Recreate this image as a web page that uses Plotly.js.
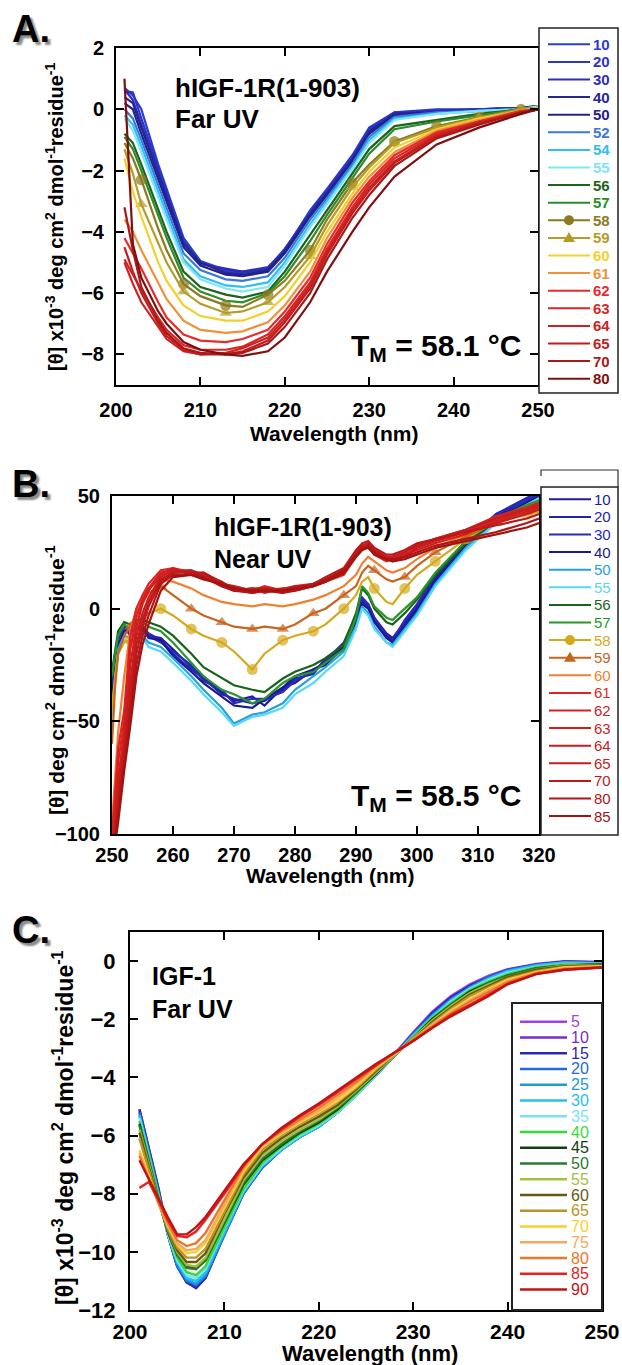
<!DOCTYPE html>
<html><head><meta charset="utf-8">
<script src="https://cdn.plot.ly/plotly-3.0.1.min.js"></script>
<style>html,body{margin:0;padding:0;background:#fff;} #chart{width:622px;height:1365px;}</style>
</head><body><div id="chart"></div>
<script>
// ---------------- Panel A: hIGF-1R(1-903) Far UV ----------------
const aWavelength = [201, 202, 203, 205, 206, 208, 210, 213, 215, 218, 220, 223, 225, 228, 230, 233, 238, 243, 248, 250];
const aTemps = ['10','20','30','40','50','52','54','55','56','57','58','59','60','61','62','63','64','65','70','80'];
const aT10 = [0.7, 0.45, 0.0, -1.8, -2.6, -4.2, -4.95, -5.25, -5.3, -5.15, -4.6, -3.3, -2.6, -1.5, -0.6, -0.1, -0.05, 0.0, 0.05, 0.1];
const aT20 = [0.6, 0.55, -0.3, -1.9, -2.7, -4.3, -5.0, -5.3, -5.35, -5.2, -4.6, -3.35, -2.65, -1.55, -0.65, -0.1, 0.0, 0.0, 0.05, 0.1];
const aT30 = [0.65, 0.3, -0.5, -2.0, -2.8, -4.35, -5.05, -5.2, -5.3, -5.2, -4.55, -3.4, -2.7, -1.6, -0.7, -0.15, -0.05, 0.0, 0.05, 0.1];
const aT40 = [0.4, 0.2, -0.6, -2.1, -2.9, -4.4, -5.0, -5.35, -5.4, -5.25, -4.65, -3.45, -2.75, -1.65, -0.75, -0.15, -0.1, -0.05, 0.0, 0.1];
const aT50 = [0.2, 0.0, -0.8, -2.3, -3.0, -4.5, -5.1, -5.4, -5.45, -5.3, -4.7, -3.5, -2.8, -1.7, -0.8, -0.2, -0.1, -0.05, 0.0, 0.1];
const aT52 = [0.0, -0.3, -1.0, -2.5, -3.2, -4.7, -5.25, -5.55, -5.6, -5.45, -4.85, -3.6, -2.9, -1.8, -0.9, -0.25, -0.1, -0.05, 0.0, 0.1];
const aT54 = [-0.2, -0.5, -1.2, -2.7, -3.4, -4.9, -5.45, -5.75, -5.8, -5.65, -5.0, -3.75, -3.0, -1.9, -1.0, -0.3, -0.15, -0.05, 0.0, 0.1];
const aT55 = [-0.3, -0.7, -1.4, -2.9, -3.6, -5.0, -5.55, -5.85, -5.95, -5.8, -5.1, -3.85, -3.1, -1.95, -1.1, -0.35, -0.15, -0.05, 0.0, 0.1];
const aT56 = [-0.8, -1.1, -1.8, -3.3, -4.0, -5.3, -5.8, -6.05, -6.15, -5.95, -5.3, -4.1, -3.3, -2.1, -1.3, -0.55, -0.35, -0.15, 0.0, 0.05];
const aT57 = [-0.9, -1.3, -2.0, -3.5, -4.2, -5.5, -5.95, -6.25, -6.3, -6.0, -5.45, -4.3, -3.45, -2.25, -1.45, -0.65, -0.4, -0.2, 0.0, 0.05];
const aT58 = [-1.1, -1.6, -2.3, -3.9, -4.6, -5.7, -6.1, -6.4, -6.45, -6.05, -5.6, -4.6, -3.6, -2.4, -1.8, -1.05, -0.55, -0.26, 0.0, 0.05];
const aT59 = [-1.3, -2.1, -3.1, -4.4, -5.0, -5.95, -6.35, -6.65, -6.6, -6.3, -5.8, -4.8, -3.8, -2.55, -1.9, -1.1, -0.6, -0.28, 0.0, 0.05];
const aT60 = [-1.6, -2.7, -3.5, -5.0, -5.6, -6.4, -6.75, -6.9, -6.9, -6.6, -6.1, -5.0, -4.0, -2.75, -2.05, -1.25, -0.65, -0.3, -0.05, 0.05];
const aT61 = [-3.6, -4.0, -4.6, -5.7, -6.2, -6.9, -7.2, -7.3, -7.25, -6.95, -6.4, -5.3, -4.2, -2.9, -2.2, -1.4, -0.7, -0.35, -0.05, 0.0];
const aT62 = [-4.2, -4.7, -5.2, -6.3, -6.8, -7.35, -7.55, -7.6, -7.5, -7.2, -6.6, -5.5, -4.4, -3.05, -2.35, -1.5, -0.75, -0.4, -0.05, 0.0];
const aT63 = [-4.9, -5.4, -5.9, -6.8, -7.2, -7.7, -7.85, -7.85, -7.75, -7.35, -6.75, -5.65, -4.55, -3.2, -2.45, -1.6, -0.8, -0.4, -0.1, 0.0];
const aT64 = [-5.0, -5.7, -6.3, -7.1, -7.5, -7.9, -8.0, -7.95, -7.8, -7.45, -6.85, -5.75, -4.65, -3.3, -2.55, -1.7, -0.85, -0.45, -0.1, 0.0];
const aT65 = [-4.5, -5.3, -6.0, -7.0, -7.4, -7.85, -8.0, -8.0, -7.9, -7.55, -6.95, -5.85, -4.75, -3.4, -2.65, -1.75, -0.9, -0.45, -0.1, 0.0];
const aT70 = [-3.2, -4.6, -5.8, -6.9, -7.3, -7.8, -7.95, -8.0, -7.95, -7.65, -7.1, -6.0, -4.9, -3.55, -2.8, -1.85, -0.95, -0.5, -0.1, 0.0];
const aT80 = [1.0, -4.4, -5.5, -6.6, -7.0, -7.6, -7.85, -8.0, -8.05, -7.9, -7.45, -6.3, -5.3, -4.0, -3.2, -2.2, -1.15, -0.6, -0.15, 0.0];
const aMarkerWavelengths = [203, 208, 213, 218, 223, 228, 233, 238, 243, 248];

// ---------------- Panel B: hIGF-1R(1-903) Near UV ----------------
const bWavelength = [250, 250.5, 251, 252, 253, 254, 255, 256, 258, 260, 263, 265, 268, 270, 273, 275, 278, 280, 283, 285, 288, 290, 291, 292, 293, 295, 296, 298, 300, 303, 308, 313, 318, 320];
const bTemps = ['10','20','30','40','50','55','56','57','58','59','60','61','62','63','64','65','70','80','85'];
const bT10 = [-38, -25, -14, -7, -10, -6, -9, -12, -13, -18, -26, -30, -37, -41, -39, -43, -35, -33, -27, -24, -16, -5, 3, 1, -5, -12, -14, -7, 0, 13, 29, 41, 48, 51];
const bT20 = [-35, -22, -12, -8, -12, -8, -8, -11, -14, -20, -27, -31, -38, -40, -42, -41, -36, -31, -29, -22, -17, -4, 4, 2, -4, -11, -13, -6, 1, 14, 30, 42, 49, 52];
const bT30 = [-30, -20, -13, -9, -11, -7, -10, -12, -15, -19, -25, -32, -36, -42, -40, -40, -37, -32, -28, -23, -15, -3, 5, 2, -4, -13, -14, -5, 2, 15, 30, 42, 48, 51];
const bT40 = [-40, -27, -16, -10, -9, -8, -9, -13, -14, -21, -28, -33, -39, -43, -44, -40, -35, -30, -27, -25, -17, -6, 2, 0, -6, -13, -15, -8, -1, 12, 28, 40, 47, 50];
const bT50 = [-45, -30, -18, -12, -13, -11, -12, -15, -17, -22, -30, -36, -44, -51, -47, -46, -42, -36, -30, -26, -19, -8, 1, -2, -8, -15, -16, -9, -2, 11, 27, 39, 46, 49];
const bT55 = [-48, -32, -20, -14, -15, -13, -13, -17, -19, -24, -32, -38, -46, -52, -48, -47, -44, -38, -33, -28, -21, -9, 0, -3, -9, -15, -17, -10, -3, 10, 26, 38, 46, 49];
const bT56 = [-28, -18, -10, -6, -7, -5, -5, -6, -8, -12, -20, -26, -31, -34, -36, -37, -31, -28, -25, -22, -16, -2, 9, 6, 0, -6, -7, -2, 4, 15, 29, 39, 45, 47];
const bT57 = [-30, -20, -12, -7, -9, -6, -6, -8, -10, -15, -24, -30, -36, -38, -42, -40, -33, -30, -28, -24, -18, -4, 10, 7, 1, -4, -5, 0, 5, 16, 30, 40, 46, 48];
const bT58 = [-45, -30, -20, -15, -14, -8, -4, -2, 0, -3, -9, -12, -15, -19, -27, -20, -14, -12, -10, -7, 0, 6, 12, 14, 9, 3, 2, 9, 15, 21, 31, 39, 42, 43];
const bT59 = [-60, -35, -20, -12, -8, -2, 3, 7, 10, 6, 0, -3, -6, -8, -9, -8, -9, -7, -2, 0, 6, 10, 16, 19, 17, 13, 12, 14, 19, 25, 32, 38, 43, 44];
const bT60 = [-95, -75, -55, -30, -10, 0, 5, 9, 13, 12, 9, 6, 3, 2, 1, 2, 1, 2, 4, 6, 10, 15, 20, 23, 21, 17, 16, 18, 22, 27, 33, 39, 44, 45];
const bT61 = [-100, -80, -62, -45, -12, 0, 6, 11, 17, 18, 16, 15, 11, 9, 8, 10, 8, 9, 10, 12, 16, 24, 27, 28, 25, 22, 22, 24, 27, 30, 34, 40, 44, 46];
const bT62 = [-105, -85, -68, -50, -18, -4, 4, 9, 16, 17, 17, 14, 10, 8, 9, 9, 7, 10, 11, 13, 17, 25, 28, 29, 26, 23, 23, 25, 28, 31, 35, 41, 45, 47];
const bT63 = [-105, -90, -75, -55, -25, -8, 2, 8, 15, 18, 15, 16, 12, 9, 7, 8, 9, 8, 10, 12, 15, 23, 26, 28, 24, 21, 22, 24, 26, 29, 33, 39, 43, 45];
const bT64 = [-110, -95, -80, -60, -32, -12, -2, 5, 14, 17, 16, 14, 11, 10, 8, 9, 8, 9, 11, 13, 16, 24, 27, 27, 25, 22, 21, 23, 27, 30, 34, 38, 42, 44];
const bT65 = [-110, -98, -85, -63, -38, -16, -5, 3, 13, 16, 17, 15, 12, 8, 9, 7, 9, 10, 10, 12, 17, 25, 28, 29, 26, 23, 23, 25, 28, 31, 35, 40, 44, 46];
const bT70 = [-110, -100, -88, -66, -42, -20, -8, 1, 12, 16, 16, 16, 11, 9, 8, 9, 8, 9, 11, 14, 18, 26, 29, 30, 27, 24, 24, 26, 29, 31, 34, 37, 40, 42];
const bT80 = [-110, -102, -92, -70, -48, -25, -12, -3, 11, 15, 15, 14, 10, 8, 7, 8, 7, 8, 10, 13, 17, 24, 27, 28, 25, 22, 22, 23, 25, 28, 31, 34, 38, 40];
const bT85 = [-110, -105, -95, -72, -52, -30, -16, -7, 8, 14, 15, 13, 11, 9, 8, 8, 8, 9, 10, 12, 16, 23, 26, 27, 24, 22, 21, 22, 24, 27, 30, 33, 36, 38];
const bMarkerWavelengths = [253, 258, 263, 268, 273, 278, 283, 288, 293, 298, 303, 308, 313, 318];

// ---------------- Panel C: IGF-1 Far UV ----------------
const cWavelength = [201, 202, 203, 204, 205, 206, 207, 208, 210, 212, 214, 216, 218, 220, 222, 224, 226, 228, 230, 232, 234, 236, 238, 240, 243, 246, 250];
const cTemps = ['5','10','15','20','25','30','35','40','45','50','55','60','65','70','75','80','85','90'];
const cT5  = [-5.1, -6.4, -7.8, -9.3, -10.4, -11.0, -11.2, -10.85, -9.35, -7.95, -7.05, -6.45, -6.0, -5.65, -5.15, -4.55, -3.9, -3.2, -2.45, -1.75, -1.2, -0.8, -0.5, -0.28, -0.1, 0.0, -0.03];
const cT10 = [-5.2, -6.5, -7.9, -9.4, -10.5, -11.05, -11.2, -10.9, -9.4, -8.0, -7.1, -6.5, -6.05, -5.7, -5.2, -4.6, -3.95, -3.25, -2.5, -1.8, -1.25, -0.85, -0.55, -0.3, -0.12, -0.02, -0.05];
const cT15 = [-5.1, -6.4, -7.8, -9.4, -10.5, -11.05, -11.25, -10.9, -9.4, -8.0, -7.1, -6.5, -6.05, -5.7, -5.2, -4.6, -3.95, -3.25, -2.5, -1.8, -1.25, -0.85, -0.55, -0.3, -0.12, -0.02, -0.05];
const cT20 = [-5.2, -6.5, -7.9, -9.4, -10.5, -11.0, -11.15, -10.85, -9.4, -8.0, -7.1, -6.5, -6.05, -5.7, -5.2, -4.6, -3.95, -3.25, -2.5, -1.85, -1.3, -0.9, -0.55, -0.3, -0.12, -0.05, -0.05];
const cT25 = [-5.3, -6.6, -8.0, -9.4, -10.4, -10.95, -11.1, -10.8, -9.35, -7.95, -7.05, -6.45, -6.0, -5.65, -5.15, -4.6, -3.95, -3.25, -2.55, -1.9, -1.35, -0.9, -0.6, -0.35, -0.15, -0.05, -0.08];
const cT30 = [-5.3, -6.6, -8.0, -9.35, -10.35, -10.9, -11.0, -10.7, -9.3, -7.95, -7.05, -6.5, -6.05, -5.7, -5.2, -4.6, -3.95, -3.25, -2.55, -1.9, -1.35, -0.95, -0.6, -0.35, -0.15, -0.05, -0.08];
const cT35 = [-5.4, -6.7, -8.1, -9.4, -10.3, -10.8, -10.9, -10.6, -9.2, -7.9, -7.0, -6.45, -6.0, -5.65, -5.2, -4.6, -3.95, -3.25, -2.6, -1.95, -1.4, -0.95, -0.65, -0.4, -0.2, -0.1, -0.1];
const cT40 = [-5.5, -6.8, -8.1, -9.3, -10.2, -10.7, -10.8, -10.5, -9.15, -7.85, -6.95, -6.4, -5.95, -5.6, -5.15, -4.55, -3.9, -3.25, -2.6, -1.95, -1.45, -1.0, -0.7, -0.45, -0.22, -0.12, -0.12];
const cT45 = [-5.6, -6.9, -8.2, -9.3, -10.1, -10.5, -10.55, -10.3, -9.0, -7.7, -6.85, -6.35, -5.9, -5.55, -5.1, -4.5, -3.9, -3.25, -2.65, -2.0, -1.5, -1.05, -0.75, -0.5, -0.25, -0.15, -0.12];
const cT50 = [-5.65, -6.95, -8.2, -9.3, -10.1, -10.55, -10.6, -10.3, -8.95, -7.65, -6.8, -6.3, -5.85, -5.5, -5.05, -4.5, -3.85, -3.25, -2.65, -2.05, -1.5, -1.1, -0.75, -0.5, -0.25, -0.15, -0.12];
const cT55 = [-5.8, -7.0, -8.2, -9.2, -10.0, -10.45, -10.5, -10.2, -8.85, -7.55, -6.7, -6.2, -5.8, -5.45, -5.0, -4.45, -3.85, -3.25, -2.65, -2.05, -1.55, -1.1, -0.8, -0.55, -0.3, -0.15, -0.15];
const cT60 = [-5.9, -7.1, -8.2, -9.2, -9.95, -10.35, -10.35, -10.05, -8.7, -7.45, -6.6, -6.1, -5.7, -5.35, -4.95, -4.4, -3.8, -3.2, -2.7, -2.1, -1.6, -1.15, -0.85, -0.55, -0.3, -0.18, -0.15];
const cT65 = [-6.1, -7.2, -8.3, -9.2, -9.85, -10.2, -10.2, -9.9, -8.6, -7.35, -6.5, -6.0, -5.6, -5.25, -4.85, -4.35, -3.75, -3.2, -2.7, -2.15, -1.65, -1.2, -0.9, -0.6, -0.35, -0.2, -0.18];
const cT70 = [-6.5, -7.4, -8.3, -9.1, -9.75, -10.05, -10.0, -9.7, -8.45, -7.25, -6.4, -5.95, -5.55, -5.2, -4.8, -4.3, -3.7, -3.2, -2.7, -2.2, -1.7, -1.3, -0.95, -0.65, -0.38, -0.22, -0.18];
const cT75 = [-6.6, -7.45, -8.3, -9.05, -9.7, -9.95, -9.9, -9.6, -8.35, -7.15, -6.35, -5.9, -5.5, -5.15, -4.7, -4.2, -3.65, -3.2, -2.7, -2.2, -1.75, -1.35, -1.0, -0.7, -0.4, -0.25, -0.2];
const cT80 = [-6.7, -7.5, -8.3, -9.0, -9.6, -9.8, -9.7, -9.35, -8.2, -7.1, -6.3, -5.85, -5.45, -5.05, -4.6, -4.15, -3.6, -3.15, -2.7, -2.25, -1.8, -1.4, -1.05, -0.72, -0.42, -0.27, -0.2];
const cT85 = [-7.8, -7.6, -8.2, -8.9, -9.45, -9.5, -9.3, -8.9, -8.0, -7.05, -6.3, -5.8, -5.35, -4.95, -4.5, -4.05, -3.6, -3.15, -2.75, -2.3, -1.85, -1.5, -1.15, -0.78, -0.45, -0.3, -0.22];
const cT90 = [-6.85, -7.5, -8.2, -8.8, -9.4, -9.4, -9.15, -8.8, -7.9, -7.0, -6.3, -5.75, -5.3, -4.9, -4.45, -4.0, -3.55, -3.15, -2.75, -2.3, -1.9, -1.55, -1.2, -0.8, -0.45, -0.3, -0.22];

// ---------------- styles ----------------
const aColors = ['#2a3cd6','#2a36c8','#2e2eb4','#262690','#22228a','#3a78e0','#30bff0','#80e6f6','#1c641c','#2c8c2c','#8c7a1e','#b49c28','#f4d028','#f09038','#e82c2c','#d82626','#cc2222','#c01e1e','#a81a1a','#801010'];
const bColors = ['#1c1c9c','#2222b0','#2a2ab8','#1a1a90','#28a0e0','#58d8f4','#1a641a','#289628','#d4aa1c','#c8641e','#f08030','#e02424','#d82020','#d01e1e','#c81c1c','#c41c1c','#bc1818','#b01616','#a01414'];
const cColors = ['#a040e0','#7a2cc8','#2a2aa8','#2468e0','#1e98d8','#28c0f0','#78e4f4','#38d838','#143c14','#2a7a34','#a0c040','#6a5810','#b89428','#f8d030','#f4a860','#e8782a','#e42222','#c01414'];

const aSeries = [aT10,aT20,aT30,aT40,aT50,aT52,aT54,aT55,aT56,aT57,aT58,aT59,aT60,aT61,aT62,aT63,aT64,aT65,aT70,aT80];
const bSeries = [bT10,bT20,bT30,bT40,bT50,bT55,bT56,bT57,bT58,bT59,bT60,bT61,bT62,bT63,bT64,bT65,bT70,bT80,bT85];
const cSeries = [cT5,cT10,cT15,cT20,cT25,cT30,cT35,cT40,cT45,cT50,cT55,cT60,cT65,cT70,cT75,cT80,cT85,cT90];

const FONT = 'Liberation Sans, Arial, Helvetica, sans-serif';
const W = 622, H = 1365;
const px = x => x / W;
const py = y => 1 - y / H;

const traces = [];
function addPanel(wl, series, names, colors, xa, ya, lw, symbols, markWl, msize) {
  series.forEach((ys, i) => {
    const sym = symbols[names[i]];
    const t = {
      type: 'scatter', x: wl, y: ys, name: names[i], xaxis: xa, yaxis: ya,
      mode: sym ? 'lines+markers' : 'lines',
      line: {color: colors[i], width: lw}, hoverinfo: 'skip', showlegend: false
    };
    if (sym) {
      t.marker = {symbol: sym, color: colors[i], size: wl.map(w => markWl.includes(w) ? msize : 0), line: {width: 0}};
    }
    traces.push(t);
  });
}
addPanel(aWavelength, aSeries, aTemps, aColors, 'x', 'y', 2.2, {'58': 'circle', '59': 'triangle-up'}, aMarkerWavelengths, 11);
addPanel(bWavelength, bSeries, bTemps, bColors, 'x2', 'y2', 2.2, {'58': 'circle', '59': 'triangle-up'}, bMarkerWavelengths, 11);
addPanel(cWavelength, cSeries, cTemps, cColors, 'x3', 'y3', 2.4, {}, [], 0);

const shapes = [];
const annotations = [];

function legend(o) {
  shapes.push({type: 'rect', xref: 'paper', yref: 'paper', x0: px(o.x0), x1: px(o.x1), y0: py(o.y1), y1: py(o.y0),
    line: {color: '#222', width: o.bw}, fillcolor: 'white', layer: 'above'});
  o.labels.forEach((lab, i) => {
    const y = o.first + i * o.step;
    const col = o.colors[i];
    shapes.push({type: 'line', xref: 'paper', yref: 'paper', x0: px(o.lx0), x1: px(o.lx1), y0: py(y), y1: py(y),
      line: {color: col, width: o.lw}, layer: 'above'});
    const sym = o.symbols[lab];
    const cx = (o.lx0 + o.lx1) / 2, r = 5;
    if (sym === 'circle') {
      shapes.push({type: 'circle', xref: 'paper', yref: 'paper', x0: px(cx - r), x1: px(cx + r), y0: py(y + r), y1: py(y - r),
        fillcolor: col, line: {width: 0}, layer: 'above'});
    } else if (sym === 'triangle') {
      shapes.push({type: 'path', xref: 'paper', yref: 'paper',
        path: `M ${px(cx - r - 1)} ${py(y + r * 0.8)} L ${px(cx + r + 1)} ${py(y + r * 0.8)} L ${px(cx)} ${py(y - r - 1)} Z`,
        fillcolor: col, line: {width: 0}, layer: 'above'});
    }
    annotations.push({xref: 'paper', yref: 'paper', x: px(o.tx), y: py(y), xanchor: 'left', yanchor: 'middle',
      text: lab, showarrow: false, borderpad: 0,
      font: {family: FONT, size: o.fs, color: col, weight: o.bold ? 'bold' : 'normal'}});
  });
}

legend({labels: aTemps, colors: aColors, x0: 539, x1: 618, y0: 28, y1: 393, bw: 1.5, first: 44.3, step: 17.6,
  lx0: 548, lx1: 590, tx: 592, fs: 15, bold: true, lw: 2, symbols: {'58': 'circle', '59': 'triangle'}});
legend({labels: bTemps, colors: bColors, x0: 541, x1: 618, y0: 487, y1: 835, bw: 1.5, first: 499.3, step: 17.6,
  lx0: 549, lx1: 591, tx: 593, fs: 15, bold: false, lw: 2, symbols: {'58': 'circle', '59': 'triangle'}});
legend({labels: cTemps, colors: cColors, x0: 512, x1: 602, y0: 1003, y1: 1310, bw: 2, first: 1021.7, step: 15.76,
  lx0: 520, lx1: 567, tx: 570, fs: 16, bold: false, lw: 2.5, symbols: {}});
// extra bracket line above B legend
shapes.push({type: 'path', xref: 'paper', yref: 'paper',
  path: `M ${px(541)} ${py(476)} L ${px(541)} ${py(470)} L ${px(618)} ${py(470)} L ${px(618)} ${py(487)}`,
  line: {color: '#333', width: 1.2}, layer: 'above'});

function text(t, x, y, size, opts = {}) {
  annotations.push(Object.assign({xref: 'paper', yref: 'paper', x: px(x), y: py(y), xanchor: 'left', yanchor: 'middle',
    text: t, showarrow: false, borderpad: 0, font: {family: FONT, size: size, color: '#000', weight: 'bold'}}, opts));
}
// panel letters with drop shadow (CSS text shadow, single text)
[['A.', 29], ['B.', 483.5], ['C.', 929.5]].forEach(([t, y]) => {
  text(t, 11, y, 38, {font: {family: FONT, size: 38, color: '#000', weight: 'bold', shadow: '3px 3px 2px #8a8a8a'}});
});
// in-plot labels
text('hIGF-1R(1-903)', 174, 88, 26);
text('Far UV', 174, 119, 26);
text('T<sub>M</sub> = 58.1 °C', 522, 347, 30, {xanchor: 'right'});
text('hIGF-1R(1-903)', 213, 527, 25);
text('Near UV', 213, 559, 25);
text('T<sub>M</sub> = 58.5 °C', 522, 797, 30, {xanchor: 'right'});
text('IGF-1', 151, 976, 25);
text('Far UV', 151, 1008.5, 25);
// axis titles
text('Wavelength (nm)', 334, 433, 21, {xanchor: 'center'});
text('Wavelength (nm)', 330, 875, 21, {xanchor: 'center'});
text('Wavelength (nm)', 370, 1353, 22, {xanchor: 'center'});
text('[θ] x10<sup>-3</sup> deg cm<sup>2</sup> dmol<sup>-1</sup>residue<sup>-1</sup>', 54, 217, 20, {xanchor: 'center', textangle: -90});
text('[θ] deg cm<sup>2</sup> dmol<sup>-1</sup>residue<sup>-1</sup>', 55, 680, 21, {xanchor: 'center', textangle: -90});
text('[θ] x10<sup>-3</sup> deg cm<sup>2</sup> dmol<sup>-1</sup>residue<sup>-1</sup>', 63, 1128, 23, {xanchor: 'center', textangle: -90});

function axis(x0, x1, y0, y1, range, dtick, tick0, fs, standoff, anchor, isX) {
  return {
    domain: isX ? [px(x0), px(x1)] : [py(y1), py(y0)],
    range: range, dtick: dtick, tick0: tick0, tickmode: 'linear',
    ticks: 'inside', ticklen: 8, tickwidth: 2, tickcolor: '#000',
    showline: true, linewidth: 2, linecolor: '#000', mirror: 'ticks',
    showgrid: false, zeroline: false, fixedrange: true,
    tickfont: {family: FONT, size: fs, color: '#000', weight: 'bold'},
    ticklabelstandoff: standoff, anchor: anchor
  };
}

const layout = {
  width: W, height: H, margin: {l: 0, r: 0, t: 0, b: 0},
  paper_bgcolor: '#fff', plot_bgcolor: '#fff', showlegend: false,
  xaxis:  axis(116, 538, 48, 385, [200, 250], 10, 200, 20, 6, 'y', true),
  yaxis:  axis(116, 538, 48, 385, [-9, 2], 2, 0, 20, 6, 'x', false),
  xaxis2: axis(112, 539, 496, 834, [250, 320], 10, 250, 20, 2, 'y2', true),
  yaxis2: axis(112, 539, 496, 834, [-100, 50], 50, 0, 20, 6, 'x2', false),
  xaxis3: axis(130, 602, 932, 1310, [200, 250], 10, 200, 21, 2, 'y3', true),
  yaxis3: axis(130, 602, 932, 1310, [-12, 1], 2, 0, 22, 8, 'x3', false),
  shapes: shapes, annotations: annotations
};

Plotly.newPlot('chart', traces, layout, {staticPlot: true, displayModeBar: false});
</script></body></html>
